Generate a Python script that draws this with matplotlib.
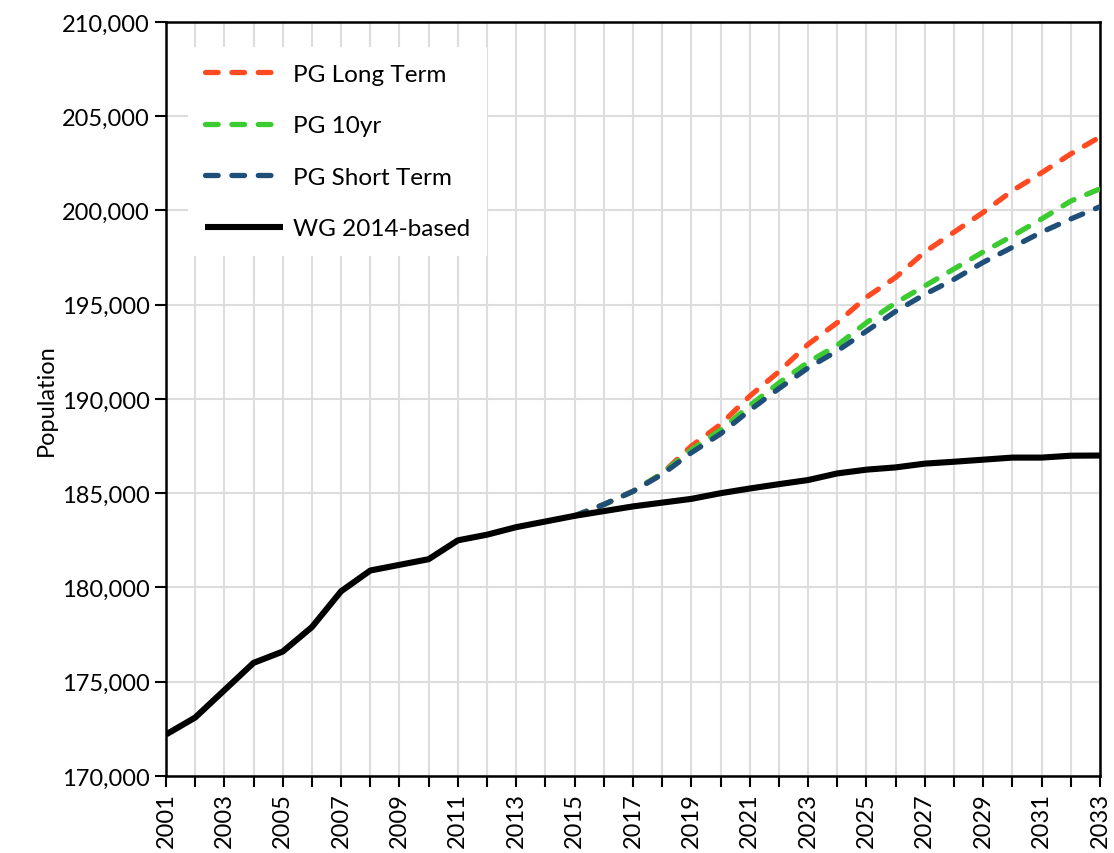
import matplotlib.pyplot as plt
from matplotlib.ticker import FuncFormatter

plt.rcParams['font.family'] = ['Lato', 'DejaVu Sans']

# donnees
years_wg = list(range(2001, 2034))
wg_2014 = [172200, 173100, 174550, 176000, 176600, 177900, 179800, 180900,
           181200, 181500, 182500, 182800, 183200, 183500, 183800, 184050,
           184300, 184500, 184700, 185000, 185250, 185480, 185700, 186050,
           186250, 186370, 186570, 186670, 186780, 186890, 186890, 186990,
           187000]

years_pg = list(range(2015, 2034))
pg_long = [183800, 184400, 185100, 186050, 187500, 188650, 190150, 191450,
           192900, 194050, 195400, 196450, 197800, 198850, 199900, 201050,
           202000, 203000, 203900]
pg_10yr = [183800, 184400, 185100, 186050, 187300, 188350, 189650, 190850,
           191950, 192850, 194050, 195100, 196000, 196900, 197800, 198650,
           199550, 200500, 201150]
pg_short = [183800, 184400, 185100, 186000, 187150, 188150, 189400, 190550,
            191650, 192550, 193600, 194650, 195550, 196350, 197250, 198050,
            198850, 199550, 200200]

fig = plt.figure(figsize=(11.14, 8.54), dpi=100)
ax = fig.add_axes([0.149, 0.0902, 0.8384, 0.8829])

dash = (0, (2.4, 2.6))
ax.plot(years_pg, pg_long, color='#FF4A22', lw=3.8, linestyle=dash,
        dash_capstyle='round', label='PG Long Term', zorder=3)
ax.plot(years_pg, pg_10yr, color='#3CCB30', lw=3.8, linestyle=dash,
        dash_capstyle='round', label='PG 10yr', zorder=3)
ax.plot(years_pg, pg_short, color='#1F4E79', lw=3.8, linestyle=dash,
        dash_capstyle='round', label='PG Short Term', zorder=3)
ax.plot(years_wg, wg_2014, color='black', lw=4.4, label='WG 2014-based',
        solid_capstyle='butt', zorder=4)

ax.set_xlim(2001, 2033)
ax.set_ylim(170000, 210000)
ax.set_xticks(years_wg)
ax.set_xticklabels([str(y) if (y - 2001) % 2 == 0 else '' for y in years_wg],
                   rotation=90)
ax.set_yticks(range(170000, 210001, 5000))
ax.yaxis.set_major_formatter(FuncFormatter(lambda v, p: f'{int(v):,}'))
ax.tick_params(axis='both', direction='out', length=8, width=1.5,
               labelsize=17, color='black')
ax.grid(True, color='#DDDDDD', lw=1.5, zorder=0)
ax.set_axisbelow(True)
for s in ax.spines.values():
    s.set_color('black')
    s.set_linewidth(1.8)

ax.set_ylabel('Population', fontsize=17)

leg = ax.legend(loc='upper left', bbox_to_anchor=(0.0236, 0.967),
                borderaxespad=0, fontsize=17.5, handlelength=3.2,
                handletextpad=0.4, labelspacing=1.25, borderpad=0.7,
                frameon=True, fancybox=False)
leg.get_frame().set_facecolor('white')
leg.get_frame().set_edgecolor('none')
leg.get_frame().set_alpha(1)

fig.savefig('out.png', dpi=100)
